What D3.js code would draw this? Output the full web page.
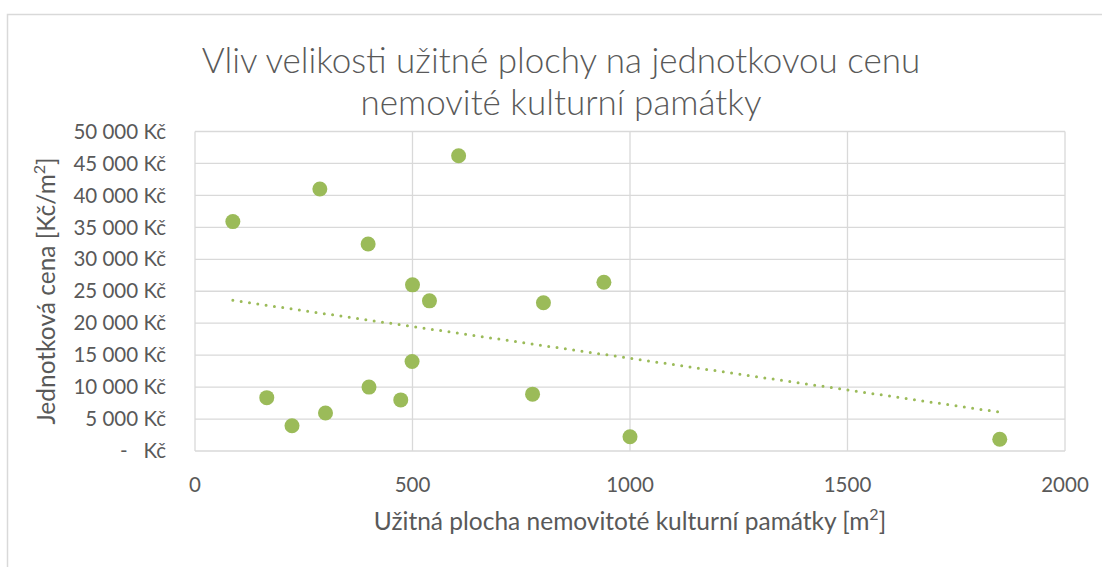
<!DOCTYPE html>
<html lang="cs">
<head>
<meta charset="UTF-8" />
<title>Vliv velikosti užitné plochy na jednotkovou cenu</title>
<script src="https://cdn.jsdelivr.net/npm/d3@7"></script>
<style>
  html, body { margin: 0; padding: 0; background: #fff; }
  svg { display: block; font-family: Lato, "Open Sans", sans-serif; }
</style>
</head>
<body>
<svg id="chart" width="1102" height="567"></svg>
<script>
// plocha [m2]
const area = [87, 287, 606, 398, 500, 539, 801, 940, 499, 165, 400, 473, 776, 300, 223, 1000, 1850];
// jednotková cena [Kč/m2]
const price = [35900, 41000, 46200, 32400, 26000, 23500, 23200, 26400, 14000, 8350, 10000, 8000, 8900, 5950, 3960, 2240, 1830];

const xTicks = [0, 500, 1000, 1500, 2000];
const yTicks = [0, 5000, 10000, 15000, 20000, 25000, 30000, 35000, 40000, 45000, 50000];
const titleLines = ["Vliv velikosti užitné plochy na jednotkovou cenu", "nemovité kulturní památky"];

const green = "#9bbb59", grid = "#d9d9d9", text = "#595959";
const m = { left: 195, right: 1065, top: 131.5, bottom: 451 };

const svg = d3.select("#chart");
const x = d3.scaleLinear().domain([0, 2000]).range([m.left, m.right]);
const y = d3.scaleLinear().domain([0, 50000]).range([m.bottom, m.top]);

// chart frame
svg.append("path")
  .attr("d", "M7.5,567V14.5H1102")
  .attr("fill", "none").attr("stroke", grid).attr("stroke-width", 1.5);

// gridlines
svg.append("g").selectAll("line").data(yTicks).join("line")
  .attr("x1", m.left).attr("x2", m.right)
  .attr("y1", d => y(d)).attr("y2", d => y(d))
  .attr("stroke", grid).attr("stroke-width", 1.3);
svg.append("g").selectAll("line").data(xTicks).join("line")
  .attr("x1", d => x(d)).attr("x2", d => x(d))
  .attr("y1", m.top).attr("y2", m.bottom)
  .attr("stroke", grid).attr("stroke-width", 1.3);

// tick labels
const fmt = v => v === 0 ? "-\u00a0\u00a0\u00a0Kč" : d3.format(",")(v).replace(/,/g, "\u00a0") + " Kč";
svg.append("g").selectAll("text").data(yTicks).join("text")
  .attr("x", 166).attr("y", d => y(d)).attr("dy", "0.35em")
  .attr("text-anchor", "end").attr("fill", text).attr("font-size", 20.5)
  .text(fmt);
svg.append("g").selectAll("text").data(xTicks).join("text")
  .attr("x", d => x(d)).attr("y", 492)
  .attr("text-anchor", "middle").attr("fill", text).attr("font-size", 20.5)
  .text(d => d);

// trendline (least squares)
const mx = d3.mean(area), my = d3.mean(price);
const slope = d3.sum(area, (v, i) => (v - mx) * (price[i] - my)) / d3.sum(area, v => (v - mx) ** 2);
const icpt = my - slope * mx;
svg.append("path")
  .datum(d3.extent(area))
  .attr("d", d3.line().x(d => x(d)).y(d => y(icpt + slope * d)))
  .attr("fill", "none").attr("stroke", green).attr("stroke-width", 3)
  .attr("stroke-linecap", "round").attr("stroke-dasharray", "0 8.4");

// points
svg.append("g").selectAll("circle").data(area).join("circle")
  .attr("cx", d => x(d)).attr("cy", (d, i) => y(price[i]))
  .attr("r", 7.5).attr("fill", green);

// title
svg.append("text")
  .attr("x", 561).attr("y", 73).attr("text-anchor", "middle")
  .attr("fill", text).attr("font-size", 35).attr("font-weight", 300)
  .selectAll("tspan").data(titleLines).join("tspan")
  .attr("x", 561).attr("dy", (d, i) => i ? 42 : 0)
  .text(d => d);

// axis titles
const xt = svg.append("text")
  .attr("x", 630).attr("y", 530).attr("text-anchor", "middle")
  .attr("fill", text).attr("font-size", 24.5);
xt.append("tspan").text("Užitná plocha nemovitoté kulturní památky [m");
xt.append("tspan").attr("dy", -10).attr("font-size", 16).text("2");
xt.append("tspan").attr("dy", 10).text("]");

const yt = svg.append("text")
  .attr("transform", "translate(55,291) rotate(-90)").attr("text-anchor", "middle")
  .attr("fill", text).attr("font-size", 24.5);
yt.append("tspan").text("Jednotková cena [Kč/m");
yt.append("tspan").attr("dy", -10).attr("font-size", 16).text("2");
yt.append("tspan").attr("dy", 10).text("]");
</script>
</body>
</html>
